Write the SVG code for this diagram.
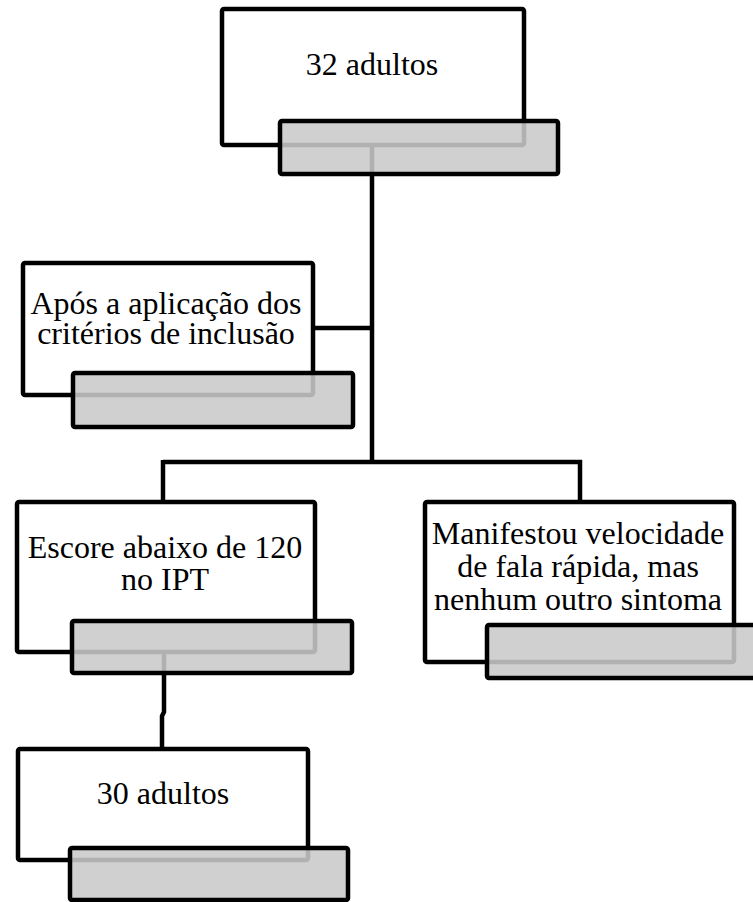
<svg xmlns="http://www.w3.org/2000/svg" width="753" height="902" viewBox="0 0 753 902">
<style>
.box{fill:#fff;stroke:#000;stroke-width:4.5}
.tab{fill:rgb(202,202,202);fill-opacity:0.88;stroke:#000;stroke-width:4.5;stroke-opacity:1}
.lbl{font-family:"Liberation Serif","Times New Roman",serif;font-size:32px;fill:#000;text-anchor:middle}
.conn{fill:none;stroke:#000;stroke-width:4.5}
</style>
<rect x="0" y="0" width="753" height="902" fill="#fff"/>
<g id="n1">
<rect class="box" x="222" y="9" width="302" height="136" rx="2"/>
</g>
<g id="n2">
<rect class="box" x="23" y="263" width="290" height="132" rx="2"/>
</g>
<g id="n3">
<rect class="box" x="17" y="502" width="298" height="150" rx="2"/>
</g>
<g id="n4">
<rect class="box" x="425" y="502" width="309" height="160" rx="2"/>
</g>
<g id="n5">
<rect class="box" x="18" y="749" width="290" height="111" rx="2"/>
</g>
<g id="connectors">
<path class="conn" d="M372 145 V462"/>
<path class="conn" d="M313 328 H372"/>
<path class="conn" d="M163 462 H582"/>
<path class="conn" d="M163 460 V502"/>
<path class="conn" d="M580 460 V502"/>
<path class="conn" d="M164 652 V712 L162 716 V749"/>
</g>
<g id="tabs">
<rect class="tab" x="280" y="121" width="278" height="53" rx="2"/>
<rect class="tab" x="73" y="373" width="280" height="54" rx="2"/>
<rect class="tab" x="72" y="621" width="280" height="52" rx="2"/>
<rect class="tab" x="487" y="625" width="275" height="53" rx="2"/>
<rect class="tab" x="70" y="848" width="278" height="52" rx="2"/>
</g>
<g id="labels">
<text class="lbl" x="166" y="314">Após a aplicação dos</text>
<text class="lbl" x="166" y="344">critérios de inclusão</text>
<text class="lbl" x="372" y="75">32 adultos</text>
<text class="lbl" x="165" y="558">Escore abaixo de 120</text>
<text class="lbl" x="165" y="590">no IPT</text>
<text class="lbl" x="578" y="544">Manifestou velocidade</text>
<text class="lbl" x="578" y="577">de fala rápida, mas</text>
<text class="lbl" x="578" y="610">nenhum outro sintoma</text>
<text class="lbl" x="163" y="804">30 adultos</text>
</g>
</svg>
